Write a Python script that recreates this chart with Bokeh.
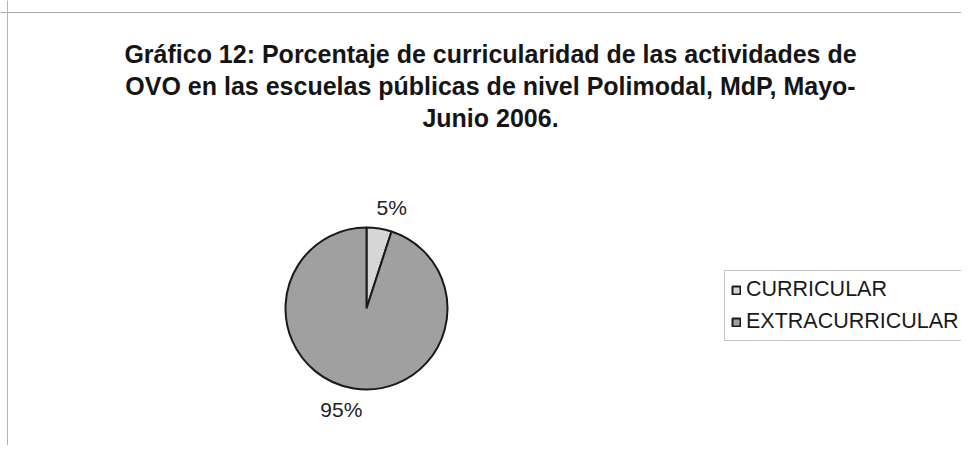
import numpy as np
from bokeh.plotting import figure
from bokeh.models import Range1d, Label, Span, Legend, LegendItem, ColumnDataSource
from bokeh.core.properties import value
from bokeh.embed import file_html
from bokeh.resources import INLINE

# ---- data ----
categories = ["CURRICULAR", "EXTRACURRICULAR"]
percentages = [5, 95]
label_texts = ["5%", "95%"]
title_lines = [
    "Gráfico 12: Porcentaje de curricularidad de las actividades de",
    "OVO en las escuelas públicas de nivel Polimodal, MdP, Mayo-",
    "Junio 2006.",
]
colors = ["#d6d6d6", "#a0a0a0"]

# ---- layout / style ----
W, H = 961, 445
CX, CY, R = 366, 137, 81
FONT = "Liberation Sans"

p = figure(width=W, height=H, output_backend="svg", toolbar_location=None,
           x_range=Range1d(0, W), y_range=Range1d(0, H),
           x_axis_type=None, y_axis_type=None, min_border=0)
p.grid.visible = False
p.outline_line_color = None
p.background_fill_color = "white"
p.border_fill_color = "white"

vals = np.array(percentages, dtype=float)
frac = vals / vals.sum()
cum = np.concatenate([[0.0], np.cumsum(frac)])
end_deg = 90 - cum[:-1] * 360
start_deg = 90 - cum[1:] * 360
mid_deg = (start_deg + end_deg) / 2

src = ColumnDataSource(dict(
    cat=categories,
    start=np.deg2rad(start_deg),
    end=np.deg2rad(end_deg),
    color=colors,
))
r = p.wedge(x=CX, y=CY, radius=R, start_angle="start", end_angle="end",
            direction="anticlock", fill_color="color", line_color="#1a1a1a",
            line_width=2, source=src)

# data labels
lab_ang = np.deg2rad(mid_deg - 5)
lab_r = 104
lx = CX + lab_r * np.cos(lab_ang)
ly = CY + lab_r * np.sin(lab_ang)
p.text(x=lx, y=ly, text=label_texts, text_align="center", text_baseline="middle",
       text_font=value(FONT), text_font_size="21px", text_color="#222222")

# title
for i, line in enumerate(title_lines):
    p.add_layout(Label(x=490, y=392 - 32 * i, text=line, text_align="center",
                       text_baseline="alphabetic", text_font=FONT,
                       text_font_size="25px", text_font_style="bold",
                       text_color="#151515"))

# frame lines (chart area border, cut by the page)
p.add_layout(Span(location=H - 12, dimension="width", line_color="#a8a8a8", line_width=1))
p.add_layout(Span(location=7, dimension="height", line_color="#b5b5b5", line_width=1))

legend = Legend(items=[LegendItem(label=categories[i], renderers=[r], index=i) for i in range(len(categories))],
                location=(724, 104), orientation="vertical",
                border_line_color="#8a8a8a", border_line_width=1,
                background_fill_color="white", background_fill_alpha=1,
                label_text_font=FONT, label_text_font_size="21.5px", label_text_color="#1a1a1a",
                glyph_width=10, glyph_height=10, label_height=21, label_standoff=5,
                spacing=7, padding=6, margin=0)
p.add_layout(legend, "center")

open("out.html", "w").write(file_html(p, INLINE))
